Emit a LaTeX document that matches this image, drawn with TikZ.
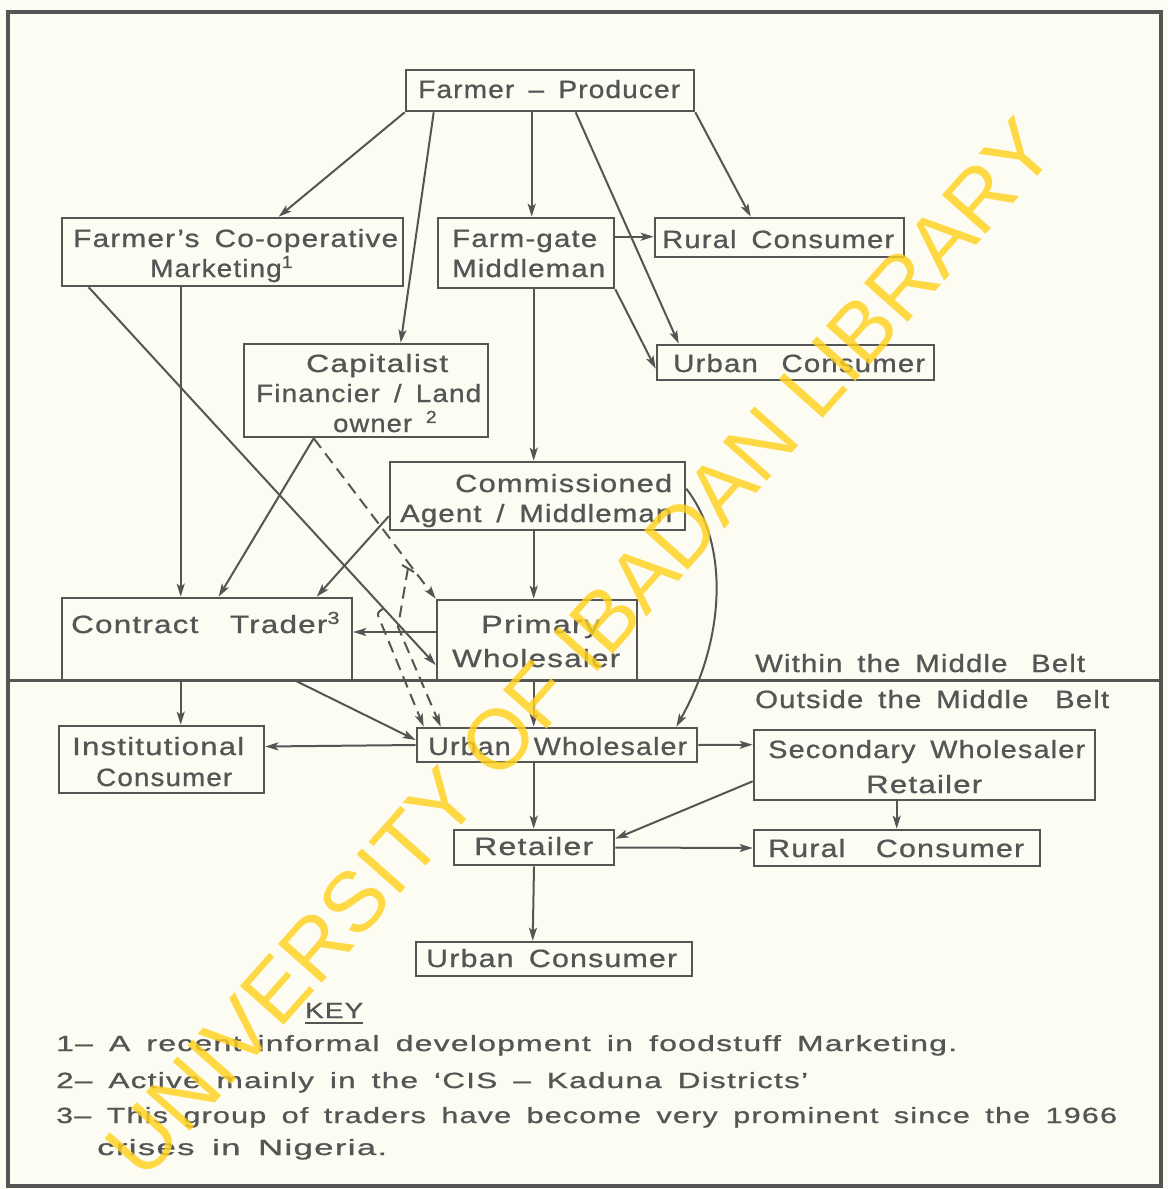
\documentclass[tikz,border=0pt]{standalone}
\usepackage{fontspec}
\setmainfont{Liberation Sans}[LetterSpace=4,WordSpace=1.6,FakeBold=0.8]
\newfontfamily\wmfont{Liberation Sans}
\usetikzlibrary{arrows.meta,calc}
\definecolor{bg}{RGB}{253,252,243}
\definecolor{ink}{RGB}{85,85,85}
\definecolor{wm}{RGB}{255,210,30}
\newsavebox{\mytbox}
\newcommand{\fitto}[2]{\sbox{\mytbox}{#2}\pgfmathsetmacro{\myfac}{#1/\wd\mytbox}\scalebox{\myfac}[1]{\usebox{\mytbox}}}
\tikzset{
  box/.style={draw=ink, line width=2.6pt, inner sep=0pt},
  txt/.style={text=ink, inner sep=0pt, anchor=base west, font=\fontsize{25}{30}\selectfont},
  ktxt/.style={text=ink, inner sep=0pt, anchor=base west, font=\fontsize{22}{26}\selectfont},
  arr/.style={draw=ink, line width=2pt, -{Stealth[length=13pt,width=8pt,inset=3pt]}},
  dsh/.style={arr, dash pattern=on 12pt off 7pt},
  rule/.style={draw=ink, line width=2pt},
}
\begin{document}
\begin{tikzpicture}[x=1pt,y=-1pt]
\fill[bg] (0,0) rectangle (1168,1189);
\useasboundingbox (0,0) rectangle (1168,1189);
% frame
\draw[ink, line width=4.5pt] (8,12) rectangle (1161,1186);
\coordinate (bl) at (8,680);
\coordinate (br) at (1161,680);
\draw[ink, line width=3pt] (bl) -- (br);

% boxes
\node[box, minimum width=288pt, minimum height=41pt] (fp) at (550,90.5) {};
\node[box, minimum width=341pt, minimum height=68pt] (coop) at (232.5,252) {};
\node[box, minimum width=176pt, minimum height=70pt] (fg) at (526,253) {};
\node[box, minimum width=249pt, minimum height=39pt] (rc1) at (779.5,237.5) {};
\node[box, minimum width=277pt, minimum height=35pt] (uc1) at (795.5,362.5) {};
\node[box, minimum width=244pt, minimum height=93pt] (cap) at (366,390.5) {};
\node[box, minimum width=295pt, minimum height=68pt] (ca) at (537.5,496) {};
\node[box, minimum width=290pt, minimum height=82pt] (ct) at (207,639) {};
\node[box, minimum width=200pt, minimum height=80pt] (pw) at (537,640) {};
\node[box, minimum width=205pt, minimum height=67pt] (inst) at (161.5,759.5) {};
\node[box, minimum width=280pt, minimum height=34pt] (uw) at (557,745) {};
\node[box, minimum width=341pt, minimum height=70pt] (sw) at (924.5,765) {};
\node[box, minimum width=160pt, minimum height=35pt] (ret) at (534,847.5) {};
\node[box, minimum width=286pt, minimum height=36pt] (rc2) at (897,848) {};
\node[box, minimum width=276pt, minimum height=34pt] (uc2) at (554,959) {};

% texts
\node[txt] (tfp) at (418,98) {\fitto{262}{Farmer – Producer}};
\node[txt] (tcoop1) at (73,247) {\fitto{325}{Farmer’s Co-operative}};
\node[txt] (tcoop2) at (150,277) {\fitto{143}{Marketing\textsuperscript{1}}};
\node[txt] (tfg1) at (452,247) {\fitto{145}{Farm-gate}};
\node[txt] (tfg2) at (452,277) {\fitto{153}{Middleman}};
\node[txt] (trc1) at (662,248) {\fitto{232}{Rural Consumer}};
\node[txt] (tuc1) at (673,372) {\fitto{252}{Urban\hspace{0.3em} Consumer}};
\node[txt] (tcap1) at (306,372) {\fitto{142}{Capitalist}};
\node[txt] (tcap2) at (256,402) {\fitto{225}{Financier / Land}};
\node[txt] (tcap3) at (333,432) {\fitto{104}{owner \textsuperscript{2}}};
\node[txt] (tca1) at (455,492) {\fitto{217}{Commissioned}};
\node[txt] (tca2) at (400,522) {\fitto{272}{Agent / Middleman}};
\node[txt] (tct) at (71,633) {\fitto{269}{Contract\hspace{0.5em} Trader\textsuperscript{3}}};
\node[txt] (tpw1) at (481,633) {\fitto{119}{Primary}};
\node[txt] (tpw2) at (452,667) {\fitto{168}{Wholesaler}};
\node[txt] (tinst1) at (72,755) {\fitto{172}{Institutional}};
\node[txt] (tinst2) at (96,786) {\fitto{136}{Consumer}};
\node[txt] (tuw) at (428,755) {\fitto{259}{Urban\hspace{0.3em} Wholesaler}};
\node[txt] (tsw1) at (768,758) {\fitto{317}{Secondary Wholesaler}};
\node[txt] (tsw2) at (866,793) {\fitto{116}{Retailer}};
\node[txt] (tret) at (474,855) {\fitto{119}{Retailer}};
\node[txt] (trc2) at (768,857) {\fitto{256}{Rural\hspace{0.5em} Consumer}};
\node[txt] (tuc2) at (426,967) {\fitto{251}{Urban Consumer}};
\node[txt] (twithin) at (755,672) {\fitto{330}{Within the Middle\hspace{0.3em} Belt}};
\node[txt] (toutside) at (755,708) {\fitto{354}{Outside the Middle\hspace{0.4em} Belt}};

% key
\node[ktxt] (tkey) at (305,1018) {\fitto{58}{KEY}};
\draw[ink, line width=1.6pt] ([yshift=-5pt]tkey.base west) -- ([yshift=-5pt]tkey.base east);
\node[ktxt] (tk1) at (56,1051) {\fitto{901}{1– A recent informal development in foodstuff Marketing.}};
\node[ktxt] (tk2) at (56,1088) {\fitto{752}{2– Active mainly in the ‘CIS – Kaduna Districts’}};
\node[ktxt] (tk3) at (56,1123) {\fitto{1061}{3– This group of traders have become very prominent since the 1966}};
\node[ktxt] (tk4) at (97,1155) {\fitto{290}{crises in Nigeria.}};

% connectors from Farmer - Producer
\draw[arr] (fp.south west) -- ([xshift=218pt]coop.north west);
\draw[arr] ([xshift=29pt]fp.south west) -- ([xshift=158pt]cap.north west);
\draw[arr] ([xshift=127pt]fp.south west) -- ([xshift=95pt]fg.north west);
\draw[arr] ([xshift=171pt]fp.south west) -- ([xshift=23pt]uc1.north west);
\draw[arr] (fp.south east) -- ([xshift=97pt]rc1.north west);
% farm-gate
\draw[arr] ([yshift=-20pt]fg.north east) -- ([yshift=-20pt]rc1.north west);
\draw[arr] (fg.south east) -- ([yshift=-25pt]uc1.north west);
\draw[arr] ([xshift=97pt]fg.south west) -- ([xshift=145pt]ca.north west);
% co-operative
\draw[arr] ([xshift=120pt]coop.south west) -- ([xshift=120pt]ct.north west);
\draw[arr] ([xshift=28pt]coop.south west) -- ([yshift=-25pt]pw.west);
% capitalist
\draw[arr] ([xshift=71pt]cap.south west) -- ([xshift=158pt]ct.north west);
\draw[dsh] ([xshift=71pt]cap.south west) -- (pw.north west);
% commissioned agent
\draw[arr] ([yshift=15pt]ca.south west) -- ([xshift=256pt]ct.north west);
\draw[arr] ([xshift=145pt]ca.south west) -- ([xshift=98pt]pw.north west);
\draw[arr] ([yshift=-28pt]ca.north east) .. controls (730,545) and (725,640) .. ([xshift=-22pt]uw.north east);
% primary wholesaler
\draw[arr] ([yshift=8pt]pw.west) -- ([yshift=7pt]ct.east);
\draw[arr] ([xshift=98pt]pw.south west) -- ([xshift=118pt]uw.north west);
% dashed extras
\coordinate (d2s) at (408,568);
\coordinate (d2m) at (398,627);
\coordinate (d3s) at (377,613);
\draw[rule] ([xshift=-6pt,yshift=3pt]d2s) -- ([xshift=6pt,yshift=-4pt]d2s);
\draw[dsh] (d2s) -- (d2m) -- ([xshift=25pt]uw.north west);
\draw[dsh, rounded corners=3pt] ([xshift=7pt,yshift=5pt]d3s) -- (d3s) -- ([xshift=8pt]uw.north west);
% contract trader
\draw[arr] ([xshift=120pt]ct.south west) -- ([xshift=123pt]inst.north west);
\draw[arr] ([xshift=236pt]ct.south west) -- ([yshift=5pt]uw.west);
% urban wholesaler
\draw[arr] (uw.west) -- ([yshift=13pt]inst.east);
\draw[arr] (uw.east) -- ([yshift=-16pt]sw.north west);
\draw[arr] ([xshift=118pt]uw.south west) -- ([xshift=81pt]ret.north west);
% secondary wholesaler
\draw[arr] ([yshift=20pt]sw.south west) -- ([yshift=-10pt]ret.north east);
\draw[arr] ([xshift=144pt]sw.south west) -- ([xshift=144pt]rc2.north west);
% retailer
\draw[arr] (ret.east) -- (rc2.west);
\draw[arr] (ret.south) -- ([xshift=118pt]uc2.north west);

% watermark
\node[rotate=48.4, text=wm, opacity=0.82, inner sep=0pt, font=\wmfont\fontsize{85}{90}\selectfont] (wmk) at (580,648) {UNIVERSITY OF IBADAN LIBRARY};
\end{tikzpicture}
\end{document}
